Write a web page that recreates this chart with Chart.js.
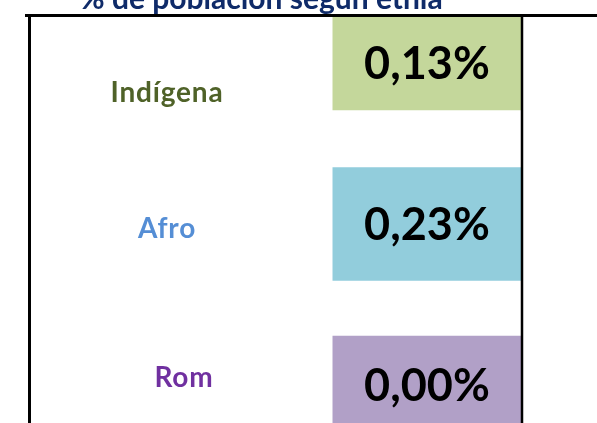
<!DOCTYPE html>
<html>
<head>
<meta charset="utf-8">
<script src="https://cdn.jsdelivr.net/npm/chart.js@4"></script>
<style>
  html, body { margin: 0; padding: 0; background: #fff; }
  #wrap { position: relative; width: 597px; height: 423px; overflow: hidden; }
</style>
</head>
<body>
<div id="wrap"><canvas id="etniaChart" width="597" height="423"></canvas></div>
<script>
var title = '% de población según etnia';
var categories = ['Indígena', 'Afro', 'Rom'];
var values = [0.13, 0.23, 0.00];
var cellColors = ['#C4D79B', '#92CDDC', '#B1A0C7'];
var labelColors = ['#4F6228', '#558ED5', '#7030A0'];

var FONT = 'Lato, "Open Sans", sans-serif';
var CELL_START = 0.616;           // where the value column starts inside the box
var cellHeights = [94, 113, 98];  // the coloured cells are not all the same height

// frame, title, row labels and the value text in each cell
var tablePlugin = {
    id: 'tablePlugin',
    afterDatasetsDraw: function(chart) {
        var ctx = chart.ctx;
        var yScale = chart.scales.y;
        var labelDx = [-3, -3, 14];
        var labelDy = [39, 14, 2];

        ctx.save();
        ctx.textAlign = 'center';
        ctx.textBaseline = 'alphabetic';

        categories.forEach(function(cat, i) {
            var bar = chart.getDatasetMeta(i).data[0];
            ctx.fillStyle = '#000';
            ctx.font = 'bold 45px ' + FONT;
            ctx.letterSpacing = '0px';
            var txt = values[i].toFixed(2).replace('.', ',') + '%';
            ctx.fillText(txt, bar.x - (bar.x - bar.base) / 2, bar.y + 16);

            ctx.fillStyle = labelColors[i];
            ctx.font = 'bold 28px ' + FONT;
            ctx.letterSpacing = '0.8px';
            ctx.fillText(cat, 170 + labelDx[i], yScale.getPixelForValue(i + 1) + labelDy[i]);
        });
        ctx.letterSpacing = '0px';

        // box lines
        var area = chart.chartArea;
        ctx.strokeStyle = '#000';
        ctx.lineWidth = 3;
        ctx.beginPath();
        ctx.moveTo(25, 15.5);
        ctx.lineTo(chart.width, 15.5);
        ctx.moveTo(29.5, 14);
        ctx.lineTo(29.5, chart.height);
        ctx.stroke();
        ctx.lineWidth = 2.5;
        ctx.beginPath();
        ctx.moveTo(area.right + 1, 14);
        ctx.lineTo(area.right + 1, chart.height);
        ctx.stroke();

        // title, cut at the top like the original
        ctx.fillStyle = '#0F2B69';
        ctx.font = 'bold 30px ' + FONT;
        ctx.textAlign = 'left';
        ctx.fillText(title, 80, 8.5);
        ctx.restore();
    }
};

new Chart(document.getElementById('etniaChart').getContext('2d'), {
    type: 'bar',
    data: {
        datasets: categories.map(function(cat, i) {
            return {
                label: cat,
                data: [{ x: [CELL_START, 1], y: i + 1 }],
                backgroundColor: cellColors[i],
                borderWidth: 0,
                barThickness: cellHeights[i],
                grouped: false,
                clip: 0
            };
        })
    },
    options: {
        indexAxis: 'y',
        responsive: false,
        animation: false,
        layout: {
            padding: { left: 31, right: 76, top: 17, bottom: 0 }
        },
        scales: {
            x: { type: 'linear', min: 0, max: 1, display: false },
            y: { type: 'linear', reverse: true, offset: false, min: 0.714, max: 3.236, display: false }
        },
        plugins: {
            legend: { display: false },
            tooltip: { enabled: false }
        }
    },
    plugins: [tablePlugin]
});
</script>
</body>
</html>
